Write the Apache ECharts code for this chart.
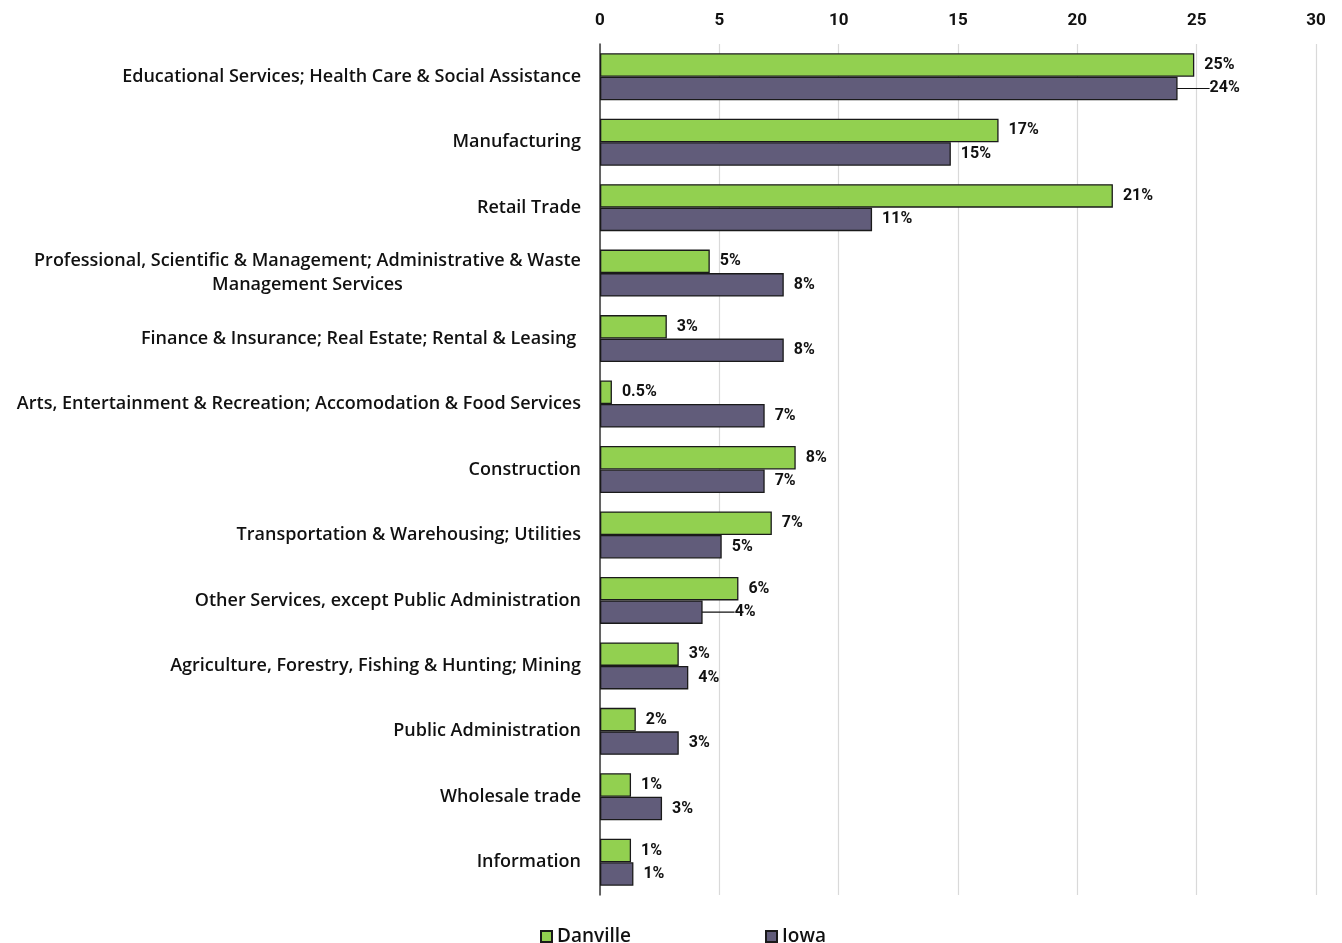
<!DOCTYPE html>
<html>
<head>
<meta charset="utf-8">
<script src="https://cdn.jsdelivr.net/npm/echarts@6/dist/echarts.min.js"></script>
<style>
  html, body { margin: 0; padding: 0; background: #fff; }
  #chart { width: 1342px; height: 943px; }
</style>
</head>
<body>
<div id="chart"></div>
<script>
// Industry categories, top to bottom
const categories = [
  'Educational Services; Health Care & Social Assistance',
  'Manufacturing',
  'Retail Trade',
  'Professional, Scientific & Management; Administrative & Waste\nManagement Services',
  'Finance & Insurance; Real Estate; Rental & Leasing ',
  'Arts, Entertainment & Recreation; Accomodation & Food Services',
  'Construction',
  'Transportation & Warehousing; Utilities',
  'Other Services, except Public Administration',
  'Agriculture, Forestry, Fishing & Hunting; Mining',
  'Public Administration',
  'Wholesale trade',
  'Information'
];

// Share of employment (%)
const danville = [24.9, 16.7, 21.49, 4.6, 2.8, 0.5, 8.2, 7.2, 5.8, 3.3, 1.5, 1.3, 1.3];
const iowa     = [24.2, 14.7, 11.4, 7.7, 7.7, 6.9, 6.9, 5.1, 4.3, 3.7, 3.3, 2.6, 1.4];

// Axis ticks
const xTicks = [0, 5, 10, 15, 20, 25, 30];

// Iowa labels pulled out to the right with a leader line
const iowaLeaderIdx = [0, 8];

const CAT_FONT = '"Open Sans", "Noto Sans", sans-serif';
const NUM_FONT = 'Roboto, "Noto Sans", sans-serif';
const catFontSize = 18;
const catFontWeight = 600;

function measure(text) {
  const ctx = document.createElement('canvas').getContext('2d');
  ctx.font = catFontWeight + ' ' + catFontSize + 'px "Open Sans"';
  return ctx.measureText(text).width;
}

function pctLabel(v) {
  return (v < 1 ? v.toFixed(1) : Math.round(v)) + '%';
}

const chart = echarts.init(document.getElementById('chart'), null, { renderer: 'canvas' });

const labelStyle = {
  show: true,
  position: 'right',
  distance: 10,
  color: '#111',
  fontFamily: NUM_FONT,
  fontWeight: 'bold',
  fontSize: 16,
  formatter: p => pctLabel(p.value)
};

const iowaData = iowa.map((v, i) =>
  iowaLeaderIdx.indexOf(i) >= 0
    ? {
        value: v,
        label: { padding: [0, 0, 0, 5] },
        labelLine: { show: true, lineStyle: { color: '#111', width: 1.2 } }
      }
    : v
);

chart.setOption({
  animation: false,
  backgroundColor: '#fff',
  textStyle: { fontFamily: CAT_FONT },
  grid: { left: 600, right: 26, top: 44, bottom: 48, containLabel: false },
  xAxis: {
    type: 'value',
    position: 'top',
    min: xTicks[0],
    max: xTicks[xTicks.length - 1],
    interval: xTicks[1] - xTicks[0],
    axisLine: { show: false },
    axisTick: { show: false },
    axisLabel: {
      color: '#111', fontSize: 17, fontWeight: 'bold', fontFamily: NUM_FONT, margin: 15
    },
    splitLine: { show: true, lineStyle: { color: '#d9d9d9', width: 1.2 } }
  },
  yAxis: {
    type: 'category',
    inverse: true,
    data: categories,
    axisLine: { show: true, lineStyle: { color: '#3a3a3a', width: 1.5 } },
    axisTick: { show: false },
    axisLabel: {
      margin: 19,
      color: '#111',
      fontSize: catFontSize,
      fontWeight: catFontWeight,
      fontFamily: CAT_FONT,
      lineHeight: 24,
      formatter: function (value) {
        const lines = value.split('\n');
        if (lines.length === 1) return value;
        return lines.map(l => '{c|' + l + '}').join('\n');
      },
      rich: {
        c: {
          fontSize: catFontSize,
          fontWeight: catFontWeight,
          fontFamily: CAT_FONT,
          color: '#111',
          lineHeight: 24,
          align: 'center',
          width: Math.ceil(measure(categories[3].split('\n')[0]))
        }
      }
    }
  },
  legend: {
    left: 535,
    top: 922,
    itemWidth: 11,
    itemHeight: 11,
    itemGap: 134,
    icon: 'rect',
    textStyle: { fontSize: 19, fontWeight: 600, color: '#111', fontFamily: CAT_FONT },
    data: ['Danville', 'Iowa']
  },
  series: [
    {
      name: 'Danville',
      type: 'bar',
      data: danville,
      barWidth: 23.5,
      barGap: '0%',
      itemStyle: { color: '#92d050', borderColor: '#1a1a1a', borderWidth: 1.3 },
      label: labelStyle
    },
    {
      name: 'Iowa',
      type: 'bar',
      data: iowaData,
      barWidth: 23.5,
      barGap: '0%',
      itemStyle: { color: '#615c7a', borderColor: '#1a1a1a', borderWidth: 1.3 },
      label: labelStyle,
      labelLayout: function (p) {
        if (iowaLeaderIdx.indexOf(p.dataIndex) >= 0) return { dx: 17 };
        return {};
      }
    }
  ]
});
</script>
</body>
</html>
